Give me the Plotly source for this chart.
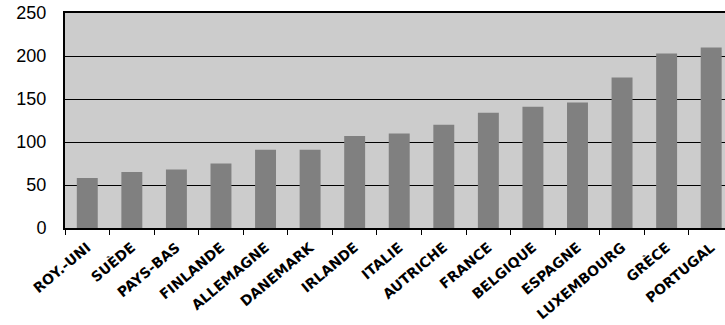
import plotly.graph_objects as go

countries = ["ROY.-UNI", "SUÈDE", "PAYS-BAS", "FINLANDE", "ALLEMAGNE", "DANEMARK",
             "IRLANDE", "ITALIE", "AUTRICHE", "FRANCE", "BELGIQUE", "ESPAGNE",
             "LUXEMBOURG", "GRÈCE", "PORTUGAL"]
values = [58, 65, 68, 75, 91, 91, 107, 110, 120, 134, 141, 146, 175, 203, 210]
y_ticks = [0, 50, 100, 150, 200, 250]

fig = go.Figure(go.Bar(x=countries, y=values, marker=dict(color="#808080", line=dict(width=0))))

fig.update_layout(
    width=725, height=325,
    margin=dict(l=65, r=0, t=13, b=97),
    paper_bgcolor="white", plot_bgcolor="#cccccc",
    bargap=0.53, showlegend=False,
)
fig.update_xaxes(
    range=[-0.5, 14.31], tickangle=-40, automargin=False,
    showline=True, linecolor="black", linewidth=2, mirror=True,
    ticks="outside", ticklen=5, tickcolor="black", tickwidth=1, tickson="boundaries",
    showgrid=False, ticklabelstandoff=4,
    tickfont=dict(family="DejaVu Sans", size=14, color="black", weight="bold"),
)
fig.update_yaxes(
    range=[0, 250], tickvals=y_ticks, automargin=False,
    showline=True, linecolor="black", linewidth=2,
    showgrid=True, gridcolor="black", gridwidth=1, zeroline=False,
    ticks="", ticklabelstandoff=13,
    tickfont=dict(family="Liberation Sans", size=18, color="black"),
)
fig.write_html("out.html")
